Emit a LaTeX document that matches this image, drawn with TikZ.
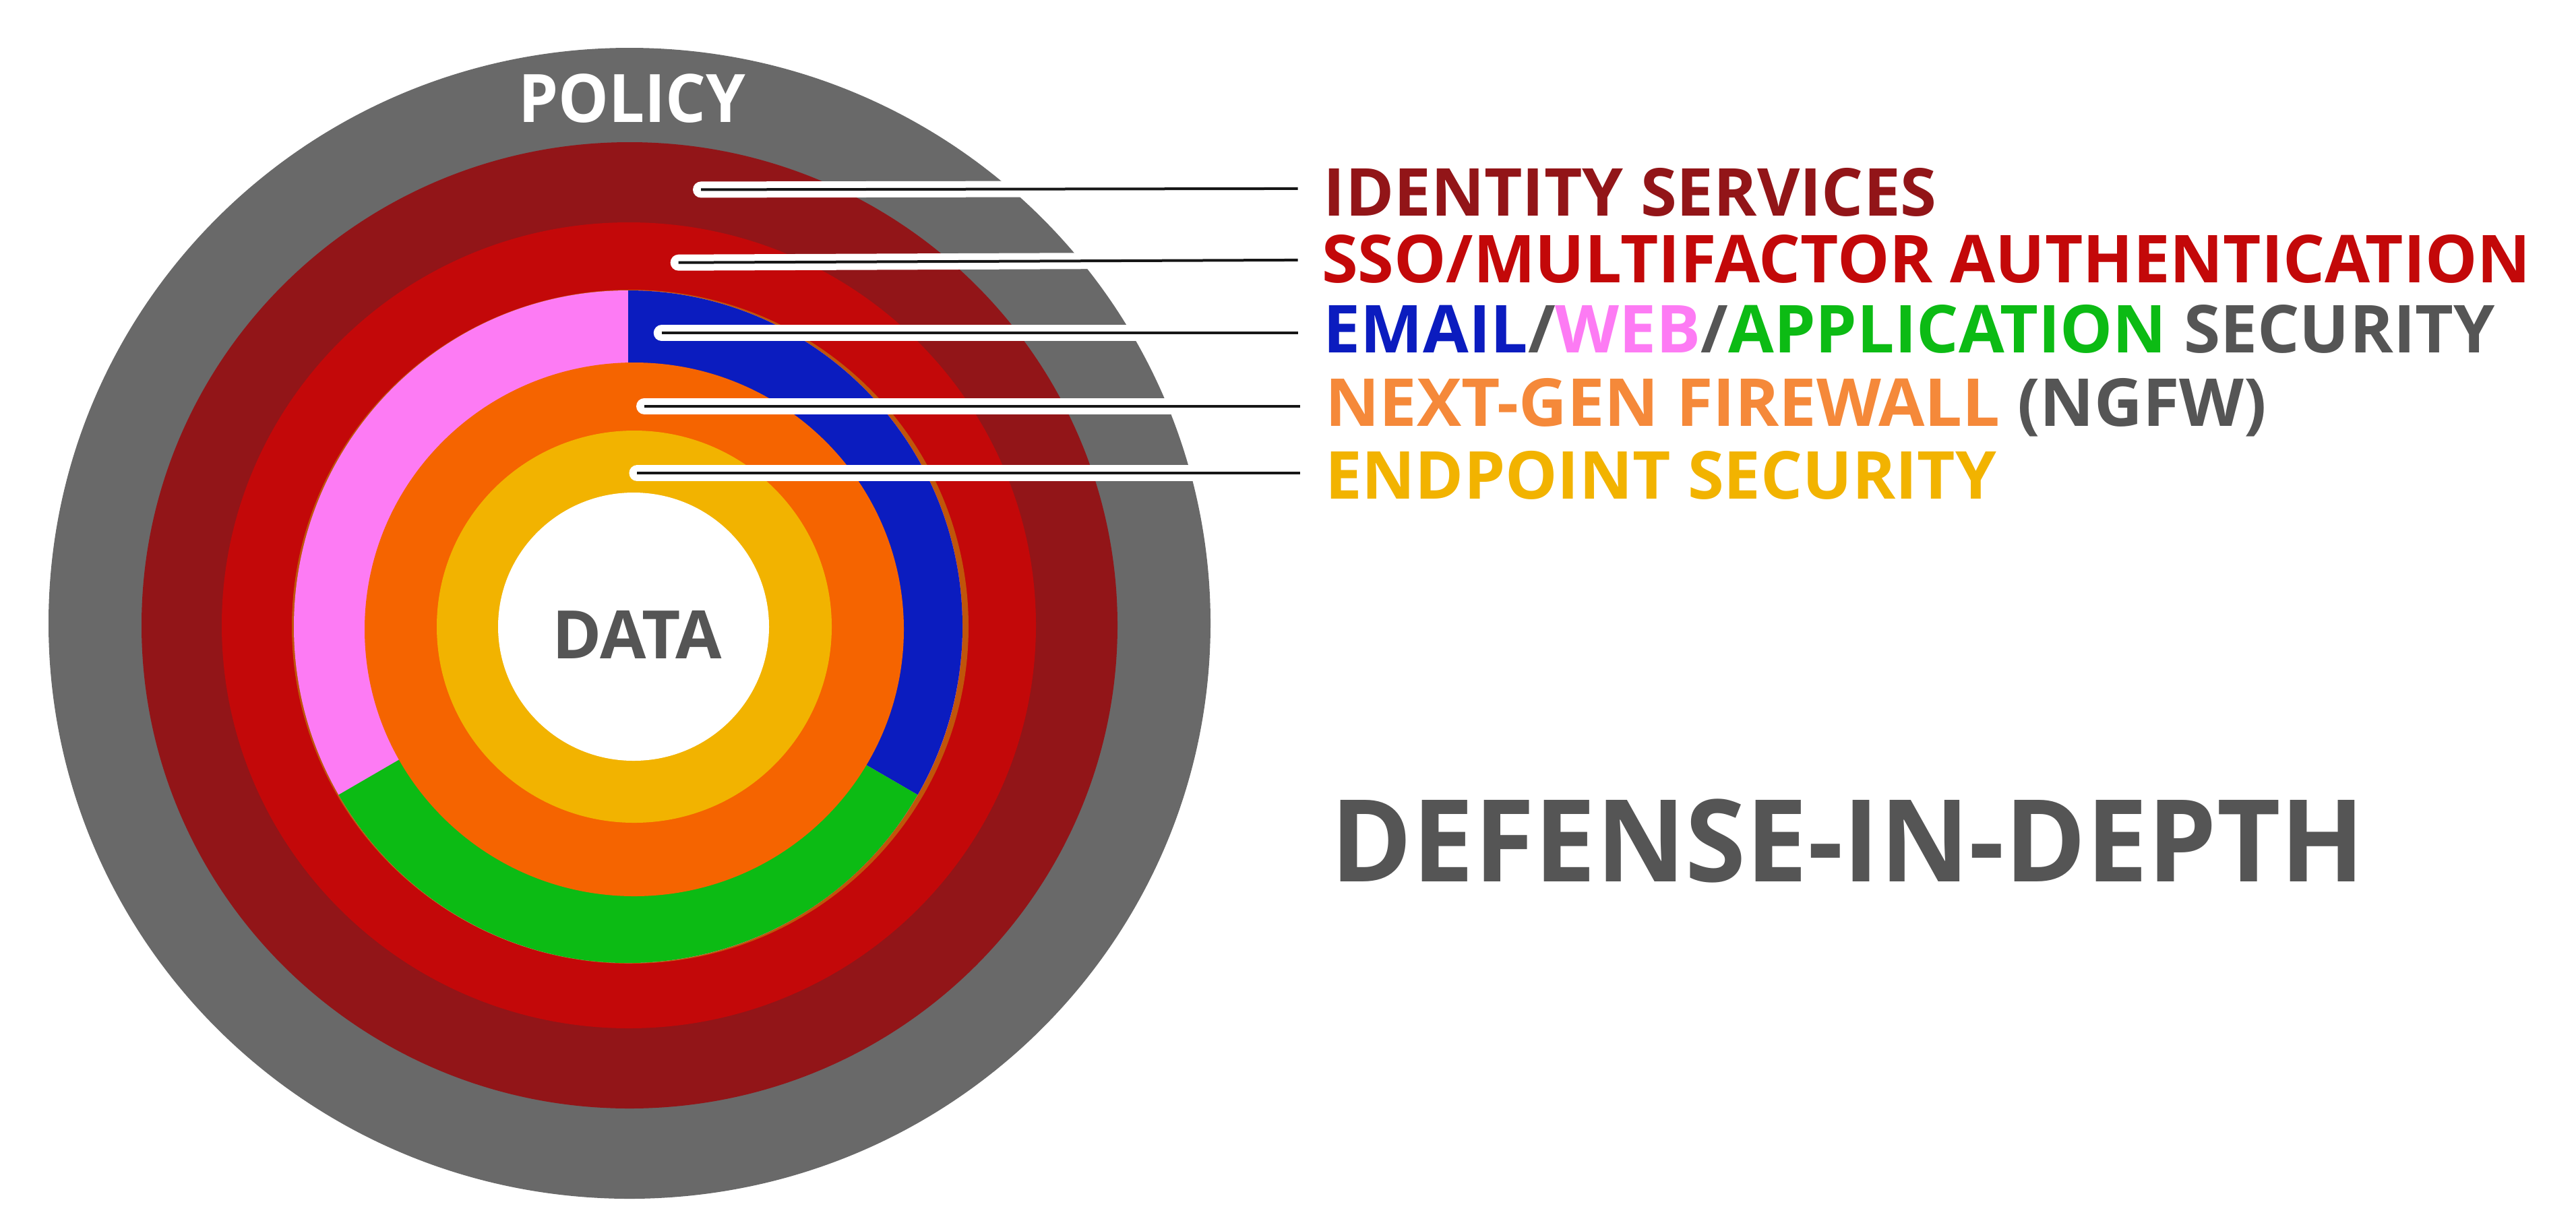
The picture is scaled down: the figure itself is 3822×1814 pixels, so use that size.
\documentclass[tikz,border=0pt]{standalone}
\usepackage{fontspec}
\setmainfont{Open Sans}
\usepackage{graphicx}
\newlength\pxu
\setlength\pxu{0.01cm}
\newcommand\fitw[2]{\resizebox{#1\pxu}{\height}{#2}}
\definecolor{ringgray}{HTML}{696969}
\definecolor{ringdkred}{HTML}{921518}
\definecolor{ringred}{HTML}{C30809}
\definecolor{ringbrown}{HTML}{C0550A}
\definecolor{ringpink}{HTML}{FD7BF4}
\definecolor{ringblue}{HTML}{0B1CBF}
\definecolor{ringgreen}{HTML}{0CBB14}
\definecolor{ringorange}{HTML}{F56400}
\definecolor{ringyellow}{HTML}{F2B300}
\definecolor{txtgray}{HTML}{555555}
\definecolor{txtorange}{HTML}{F5893A}
\definecolor{leaderblack}{HTML}{161616}
\begin{document}
\begin{tikzpicture}[x=0.01cm,y=-0.01cm,
  lbl/.style={inner sep=0pt,outer sep=0pt,anchor=base west,font=\fontsize{27.9pt}{30pt}\selectfont\bfseries},
  ringtext/.style={inner sep=0pt,outer sep=0pt,anchor=base,font=\fontsize{28.2pt}{30pt}\selectfont\bfseries},
  casing/.style={white,line width=24\pxu,line cap=round},
  leader/.style={leaderblack,line width=4\pxu},
]
\useasboundingbox (0,0) rectangle (3822,1814);
\fill[white] (0,0) rectangle (3822,1814);
% rings
\fill[ringgray] (934,925) ellipse [x radius=862, y radius=854];
\fill[ringdkred] (934,928) ellipse [x radius=724, y radius=717];
\fill[ringred] (933,928) ellipse [x radius=604, y radius=598];
\fill[ringbrown] (935,930) ellipse [x radius=502, y radius=500];
\fill[ringpink] (932,930) ellipse [x radius=496, y radius=499];
\fill[ringblue] (932,930) -- (932,431) arc [start angle=-90, end angle=30, x radius=496, y radius=499] -- cycle;
\fill[ringgreen] (932,930) -- ++(429.5,249.5) arc [start angle=30, end angle=150, x radius=496, y radius=499] -- cycle;
\fill[ringorange] (941,934) ellipse [x radius=400, y radius=396];
\fill[ringyellow] (941,930) ellipse [x radius=293, y radius=291];
\fill[white] (940,930) ellipse [x radius=201, y radius=199];
% ring texts
\node[ringtext,text=white] (policy) at (937.5,181.6) {\fitw{337}{POLICY}};
\node[ringtext,text=txtgray] (data) at (945,977.6) {\fitw{252}{DATA}};
% leader anchors
\coordinate (s1) at (1040,281.4);   \coordinate (e1) at (1925.6,279.9);
\coordinate (s2) at (1006.6,389.7); \coordinate (e2) at (1925.6,385.9);
\coordinate (s3) at (981.7,494.4);  \coordinate (e3) at (1925.6,494.4);
\coordinate (s4) at (956,602.7);    \coordinate (e4) at (1929,602.7);
\coordinate (s5) at (945.4,702.2);  \coordinate (e5) at (1929,702.2);
\foreach \i in {1,...,5} {
  \draw[casing] (s\i) -- (e\i);
  \draw[leader] (s\i) -- (e\i);
}
% labels
\node[lbl,text=ringdkred] (lid) at (1963.7,320) {\fitw{910}{IDENTITY SERVICES}};
\node[lbl,text=ringred] (lsso) at (1961,419.7) {\fitw{1794}{SSO/MULTIFACTOR AUTHENTICATION}};
\node[lbl,text=txtgray] (lemail) at (1963.7,523.7) {\fitw{1738}{\textcolor{ringblue}{EMAIL}/\textcolor{ringpink}{WEB}/\textcolor{ringgreen}{APPLICATION} SECURITY}};
\node[lbl,text=txtgray] (lngfw) at (1966,632.5) {\fitw{1397}{\textcolor{txtorange}{NEXT-GEN FIREWALL} (NGFW)}};
\node[lbl,text=ringyellow] (lend) at (1966,740.7) {\fitw{996}{ENDPOINT SECURITY}};
\node[inner sep=0pt,outer sep=0pt,anchor=base west,text=txtgray,font=\fontsize{48.2pt}{50pt}\selectfont\bfseries] (title) at (1974.7,1308) {\fitw{1534}{DEFENSE-IN-DEPTH}};
\end{tikzpicture}
\end{document}
